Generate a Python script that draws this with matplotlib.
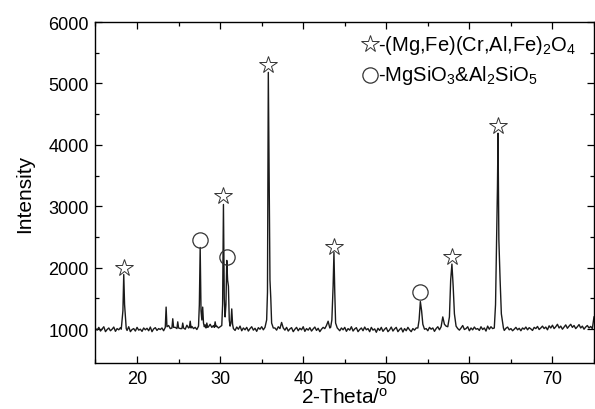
import numpy as np
import matplotlib.pyplot as plt

# Fonts: Arial-like text, DejaVu as fallback
plt.rcParams['font.family'] = ['Liberation Sans', 'DejaVu Sans']
plt.rcParams['mathtext.fontset'] = 'custom'
plt.rcParams['mathtext.rm'] = 'Liberation Sans'

# Background counts, one value every 0.2 deg from 15.0 to 75.0
base_start = 15.0
base_step = 0.2
base_counts = [
    1010, 985, 1030, 970, 1005, 1040, 960, 995, 1020, 975,      # 15
    1000, 1035, 965, 1010, 990, 1025, 955, 1005, 1015, 980,     # 17
    1040, 960, 995, 1010, 970, 1030, 985, 1000, 965, 1020,      # 19
    990, 1015, 975, 1035, 960, 1005, 1025, 980, 1010, 995,      # 21
    1020, 975, 1040, 1000, 1060, 1010, 1045, 990, 1030, 1000,   # 23
    1050, 1010, 985, 1040, 1000, 1065, 1020, 990, 1045, 1010,   # 25
    1030, 995, 1050, 1010, 1060, 1025, 1070, 1005, 1040, 1080,  # 27
    1030, 1060, 1005, 1050, 1020, 1040, 990, 1030, 1060, 1015,  # 29
    1045, 1000, 1070, 1020, 980, 1035, 1000, 1050, 975, 1020,   # 31
    990, 1030, 970, 1010, 1040, 985, 1015, 965, 1025, 1000,     # 33
    1040, 990, 1020, 1050, 1005, 1070, 1030, 990, 1020, 985,    # 35
    1040, 1010, 1110, 1020, 985, 1030, 970, 1005, 1025, 960,    # 37
    1000, 1030, 975, 1015, 990, 1040, 965, 1010, 985, 1025,     # 39
    970, 1005, 1035, 980, 1015, 960, 1000, 1030, 1010, 1060,    # 41
    1130, 1020, 1080, 1020, 990, 1040, 1005, 975, 1020, 990,    # 43
    1030, 965, 1010, 985, 1040, 970, 1005, 1025, 960, 995,      # 45
    1020, 975, 1035, 990, 1010, 960, 1030, 985, 1005, 950,      # 47
    1015, 980, 1030, 965, 1000, 1025, 960, 990, 1035, 970,      # 49
    1005, 1030, 960, 995, 1020, 955, 1010, 975, 1030, 990,      # 51
    960, 1010, 985, 1020, 1040, 1000, 970, 1025, 990, 1010,     # 53
    975, 1030, 1000, 1020, 965, 1010, 1040, 990, 1040, 1200,    # 55
    1080, 1050, 1030, 1000, 1035, 990, 1050, 1005, 1030, 985,   # 57
    1020, 1060, 995, 1010, 1040, 975, 1020, 990, 1035, 1000,    # 59
    1010, 980, 1040, 995, 1020, 970, 1050, 1000, 1040, 1010,    # 61
    1030, 995, 1040, 1010, 1000, 1030, 980, 1015, 1035, 990,    # 63
    1010, 975, 1000, 1030, 990, 1015, 975, 1020, 1000, 1035,    # 65
    990, 1025, 1005, 980, 1030, 1010, 1045, 995, 1020, 1050,    # 67
    1010, 1035, 990, 1055, 1020, 1065, 1010, 1040, 1080, 1020,  # 69
    1050, 1000, 1035, 1070, 1015, 1050, 1080, 1030, 1060, 1010, # 71
    1040, 1075, 1020, 1050, 1000, 1035, 1060, 1020, 1045, 1010, # 73
    1200,                                                       # 75
]

# Diffraction peaks (2-theta, intensity)
peak_theta = [
    [18.1, 18.3, 18.4, 18.5, 18.7],
    [23.4, 23.5, 23.6],
    [24.2, 24.3, 24.4],
    [24.8, 24.9, 25.0],
    [25.4, 25.5, 25.6],
    [26.3, 26.4, 26.5],
    [27.4, 27.5, 27.6, 27.7, 27.8, 27.9, 28.0, 28.1],
    [28.3, 28.4, 28.5],
    [29.3, 29.4, 29.5],
    [30.2, 30.3, 30.4, 30.5, 30.6, 30.7, 30.8, 30.9, 31.0, 31.1, 31.2, 31.3, 31.4, 31.5, 31.6],
    [35.4, 35.6, 35.7, 35.8, 35.9, 36.0, 36.1, 36.2, 36.4],
    [43.3, 43.45, 43.6, 43.7, 43.8, 43.9, 44.1],
    [53.8, 53.95, 54.1, 54.25, 54.4, 54.6],
    [57.4, 57.6, 57.75, 57.9, 58.05, 58.2, 58.4, 58.6],
    [63.0, 63.15, 63.3, 63.38, 63.45, 63.55, 63.7, 63.85, 64.1],
]
peak_counts = [
    [1000, 1300, 1890, 1400, 1010],
    [1030, 1360, 1040],
    [1020, 1170, 1030],
    [1010, 1120, 1020],
    [1010, 1100, 1020],
    [1030, 1130, 1020],
    [1050, 1400, 2330, 1300, 1150, 1360, 1100, 1040],
    [1020, 1100, 1030],
    [1030, 1120, 1040],
    [1060, 1400, 3030, 1500, 1200, 1400, 2120, 1800, 1700, 1150, 1050, 1100, 1330, 1080, 1010],
    [1030, 1150, 1600, 5180, 3500, 1800, 1500, 1100, 1020],
    [1030, 1150, 1700, 2250, 1600, 1100, 1020],
    [1020, 1150, 1450, 1300, 1080, 1000],
    [1040, 1200, 1800, 2060, 1700, 1250, 1050, 1010],
    [1020, 1400, 2600, 3310, 4190, 2460, 1800, 1250, 1020],
]

# Phase markers
star_theta = [18.4, 30.4, 35.8, 43.7, 57.9, 63.45]
star_y = [1990, 3170, 5300, 2340, 2180, 4300]
circle_theta = [27.6, 30.85, 54.1]
circle_y = [2460, 2170, 1600]

# Build the trace: background with the peak windows replaced by the peak points
base_theta = base_start + base_step * np.arange(len(base_counts))
base_counts = np.array(base_counts, dtype=float)
keep = np.ones(len(base_theta), dtype=bool)
for seg in peak_theta:
    keep &= ~((base_theta >= seg[0] - 1e-6) & (base_theta <= seg[-1] + 1e-6))
theta = np.concatenate([base_theta[keep]] + [np.array(s) for s in peak_theta])
counts = np.concatenate([base_counts[keep]] + [np.array(c, dtype=float) for c in peak_counts])
order = np.argsort(theta)
theta = theta[order]
counts = counts[order]

fig = plt.figure(figsize=(5.95, 4.10), dpi=100)
ax = fig.add_axes([0.1605, 0.1122, 0.8378, 0.8317])

ax.plot(theta, counts, color='#1a1a1a', lw=1.0)
ax.plot(star_theta, star_y, ls='none', marker='*', ms=13,
        mfc='white', mec='#333333', mew=0.7)
ax.plot(circle_theta, circle_y, ls='none', marker='o', ms=11,
        mfc='none', mec='#333333', mew=0.9)

# Legend as text with markers
ax.plot([0.551], [0.935], transform=ax.transAxes, ls='none', marker='*', ms=13,
        mfc='white', mec='#333333', mew=0.7, clip_on=False)
ax.plot([0.551], [0.845], transform=ax.transAxes, ls='none', marker='o', ms=11,
        mfc='none', mec='#333333', mew=0.9, clip_on=False)
ax.text(0.566, 0.935, r'-(Mg,Fe)(Cr,Al,Fe)$\mathregular{_2}$O$\mathregular{_4}$',
        transform=ax.transAxes, fontsize=14.5, va='center', ha='left')
ax.text(0.566, 0.845, r'-MgSiO$\mathregular{_3}$&Al$\mathregular{_2}$SiO$\mathregular{_5}$',
        transform=ax.transAxes, fontsize=14.5, va='center', ha='left')

ax.set_xlim(15, 75)
ax.set_ylim(450, 6000)
ax.set_xticks([20, 30, 40, 50, 60, 70])
ax.set_xticks(np.arange(15, 76, 5), minor=True)
ax.set_yticks([1000, 2000, 3000, 4000, 5000, 6000])
ax.set_yticks(np.arange(1500, 6000, 1000), minor=True)
ax.tick_params(which='both', direction='in', top=True, right=True, labelsize=13, width=0.9)
ax.tick_params(which='major', length=5, pad=5)
ax.tick_params(which='minor', length=3)
for s in ax.spines.values():
    s.set_linewidth(1.0)

ax.set_xlabel(r'2-Theta/$\mathregular{^o}$', fontsize=15, labelpad=0)
ax.set_ylabel('Intensity', fontsize=15, labelpad=10)

fig.savefig('out.png', dpi=100)
